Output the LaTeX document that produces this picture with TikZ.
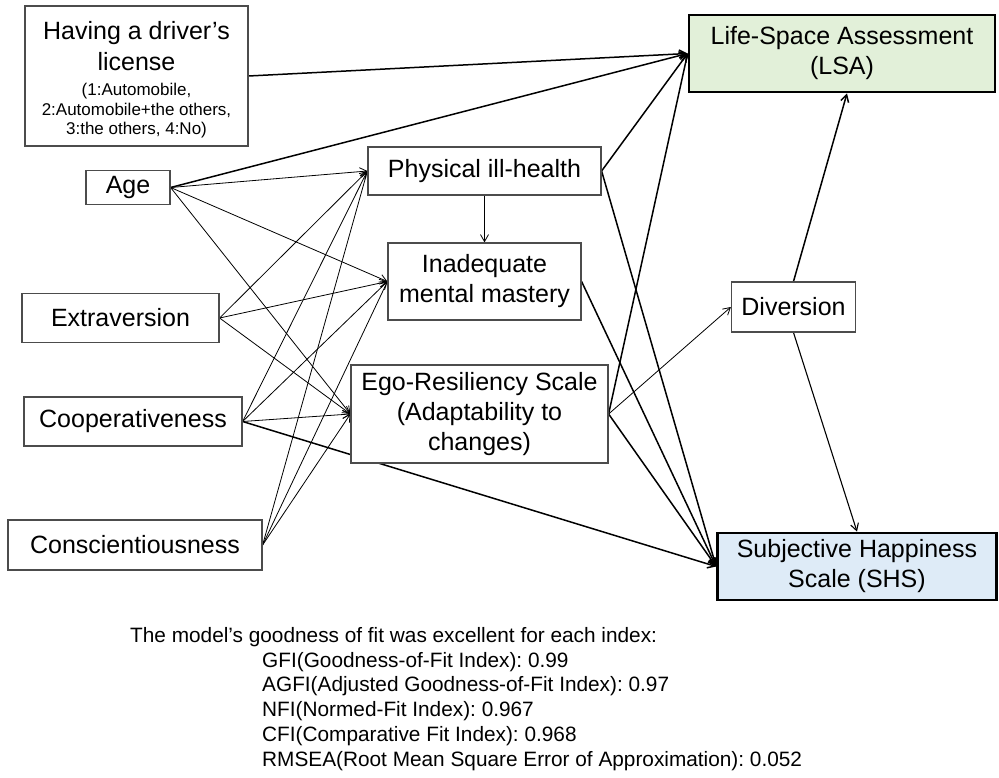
\documentclass[tikz,border=0pt]{standalone}
\usepackage{fontspec}
\setmainfont{Liberation Sans}
\usetikzlibrary{positioning, backgrounds, arrows.meta}

\definecolor{lsagreen}{RGB}{226,240,217}
\definecolor{shsblue}{RGB}{222,235,247}

\newcommand{\smalltxt}{\fontsize{17}{19}\selectfont}

\tikzset{
  var/.style={draw=black!70, line width=1.2pt, fill=white, inner sep=0pt, align=center,
              font=\fontsize{25}{30}\selectfont},
  outcome/.style={var, draw=black, line width=2.8pt},
  strong/.style={line width=1.5pt},
  weak/.style={line width=0.8pt}
}

\begin{document}
\frenchspacing
\begin{tikzpicture}[x=1pt, y=-1pt, >={Straight Barb[length=7pt, width=8pt]}]
\useasboundingbox (0,0) rectangle (999,778);

% exogenous variables
\node [var, minimum width=223, minimum height=140] (v_lic) at (136.5,76)
      {\rule{0pt}{26pt}Having a driver's\\[1pt]license\\[-5pt]\smalltxt (1:Automobile,\\[-10pt]\smalltxt 2:Automobile+the others,\\[-11pt]\smalltxt 3:the others, 4:No)};
\node [var, minimum width=84, minimum height=34] (v_age) at (128,187.5) {Age};
\node [var, minimum width=197, minimum height=49] (v_ext) at (120.5,318) {Extraversion};
\node [var, minimum width=218, minimum height=49] (v_coop) at (133,421.5) {Cooperativeness};
\node [var, minimum width=254, minimum height=50] (v_cons) at (135,545) {Conscientiousness};

% mediators
\node [var, minimum width=233, minimum height=48] (v_phys) at (484.5,171) {Physical ill-health};
\node [var, minimum width=193, minimum height=77] (v_mental) at (484.5,281.5) {Inadequate\\mental mastery};
\node [var, minimum width=257, minimum height=98] (v_ego) at (479.5,414) {Ego-Resiliency Scale\\(Adaptability to\\changes)};
\node [var, minimum width=124, minimum height=50] (v_div) at (793.5,307) {Diversion};

% outcomes
\node [outcome, fill=lsagreen, minimum width=306, minimum height=77] (v_lsa) at (842,53.5) {Life-Space Assessment\\(LSA)};
\node [outcome, fill=shsblue, minimum width=279, minimum height=67] (v_shs) at (857,566.5) {Subjective Happiness\\Scale (SHS)};

% fit indices
\node [anchor=north west, inner sep=0pt, align=left, font=\fontsize{20.8}{24.8}\selectfont] (v_fit) at (130,627)
      {The model's goodness of fit was excellent for each index:\\
       \hspace*{132pt}GFI(Goodness-of-Fit Index): 0.99\\
       \hspace*{132pt}AGFI(Adjusted Goodness-of-Fit Index): 0.97\\
       \hspace*{132pt}NFI(Normed-Fit Index): 0.967\\
       \hspace*{132pt}CFI(Comparative Fit Index): 0.968\\
       \hspace*{132pt}RMSEA(Root Mean Square Error of Approximation): 0.052};

\begin{scope}[on background layer]
\path[->, weak]
  (v_age.east) edge (v_phys.west) edge (v_mental.west) edge (v_ego.west)
  (v_ext.east) edge (v_phys.west) edge (v_mental.west) edge (v_ego.west)
  (v_coop.east) edge (v_phys.west) edge (v_mental.west) edge (v_ego.west)
  (v_cons.east) edge (v_phys.west) edge (v_mental.west) edge (v_ego.west)
  (v_phys.south) edge (v_mental.north)
  (v_ego.east) edge (v_div.west);
\path[->, strong]
  (v_lic.east) edge (v_lsa.west)
  (v_age.east) edge (v_lsa.west)
  (v_phys.east) edge (v_lsa.west) edge (v_shs.west)
  (v_mental.east) edge (v_shs.west)
  (v_ego.east) edge (v_lsa.west) edge (v_shs.west)
  (v_coop.east) edge (v_shs.west)
  (v_div.north) edge ([xshift=5pt]v_lsa.south);
\path[->, line width=1.1pt]
  (v_div.south) edge (v_shs.north);
\end{scope}
\end{tikzpicture}
\end{document}
